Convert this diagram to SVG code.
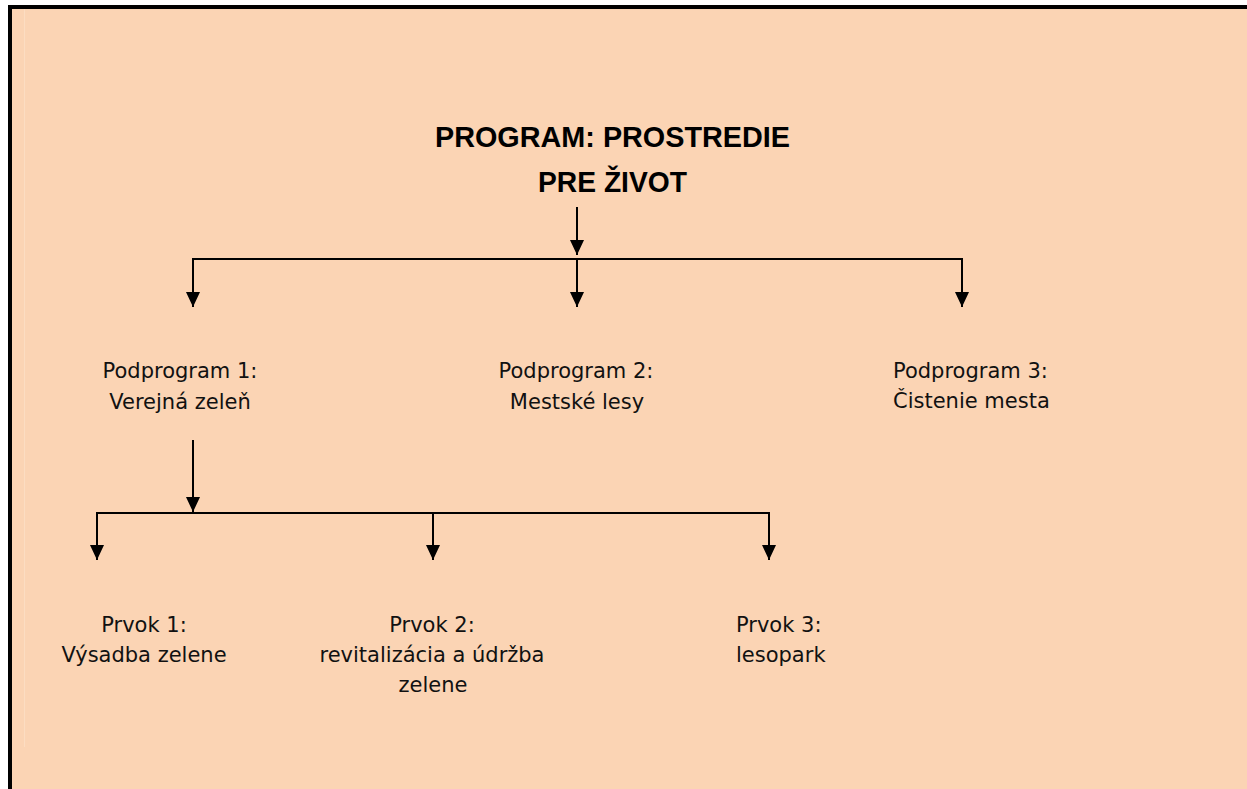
<svg xmlns="http://www.w3.org/2000/svg" width="1247" height="789" viewBox="0 0 1247 789">
<style>
.title{font-family:"Liberation Sans",Arial,sans-serif;font-weight:bold;font-size:30px;fill:#000;text-anchor:middle}
.lbl{font-family:"DejaVu Sans",Verdana,sans-serif;font-size:21px;fill:#111;text-anchor:middle}
.lbll{font-family:"DejaVu Sans",Verdana,sans-serif;font-size:21px;fill:#111;text-anchor:start}
.con{stroke:#000;stroke-width:2;fill:none}
.arr{marker-end:url(#ah)}
</style>
<defs>
<marker id="ah" markerUnits="userSpaceOnUse" markerWidth="16" markerHeight="16" viewBox="0 0 16 16" refX="8" refY="15" orient="0">
<path d="M1,0 L15,0 L8,15 Z" fill="#000"/>
</marker>
</defs>
<rect x="0" y="0" width="1247" height="789" fill="#fff"/>
<rect x="10" y="7" width="1237" height="782" fill="#FBD4B4"/>
<path d="M10,789 V7 H1247" stroke="#000" stroke-width="4" fill="none"/>
<line x1="24.5" y1="9" x2="24.5" y2="747" stroke="#FCDDC2" stroke-width="1"/>
<g id="title">
<text class="title" x="612.5" y="147" textLength="355" lengthAdjust="spacingAndGlyphs">PROGRAM: PROSTREDIE</text>
<text class="title" x="612.5" y="192" textLength="149" lengthAdjust="spacingAndGlyphs">PRE ŽIVOT</text>
</g>
<g id="connectors">
<line class="con arr" x1="577" y1="207" x2="577" y2="255"/>
<path class="con" d="M193,307 V259 H962 V307"/>
<line class="con arr" x1="193" y1="259" x2="193" y2="307"/>
<line class="con arr" x1="577" y1="259" x2="577" y2="307"/>
<line class="con arr" x1="962" y1="259" x2="962" y2="307"/>
<line class="con arr" x1="193" y1="440" x2="193" y2="512"/>
<path class="con" d="M97,560 V513 H769 V560"/>
<line class="con arr" x1="97" y1="513" x2="97" y2="560"/>
<line class="con arr" x1="433" y1="513" x2="433" y2="560"/>
<line class="con arr" x1="769" y1="513" x2="769" y2="560"/>
</g>
<g id="podprogram1">
<text class="lbl" x="180" y="378">Podprogram 1:</text>
<text class="lbl" x="180" y="409">Verejná zeleň</text>
</g>
<g id="podprogram2">
<text class="lbl" x="576" y="378">Podprogram 2:</text>
<text class="lbl" x="577" y="409">Mestské lesy</text>
</g>
<g id="podprogram3">
<text class="lbll" x="893" y="378">Podprogram 3:</text>
<text class="lbll" x="893" y="408">Čistenie mesta</text>
</g>
<g id="prvok1">
<text class="lbl" x="144" y="632">Prvok 1:</text>
<text class="lbl" x="144" y="662">Výsadba zelene</text>
</g>
<g id="prvok2">
<text class="lbl" x="432" y="632">Prvok 2:</text>
<text class="lbl" x="432" y="662">revitalizácia a údržba</text>
<text class="lbl" x="433" y="692">zelene</text>
</g>
<g id="prvok3">
<text class="lbll" x="736" y="632">Prvok 3:</text>
<text class="lbll" x="736" y="662">lesopark</text>
</g>
</svg>
